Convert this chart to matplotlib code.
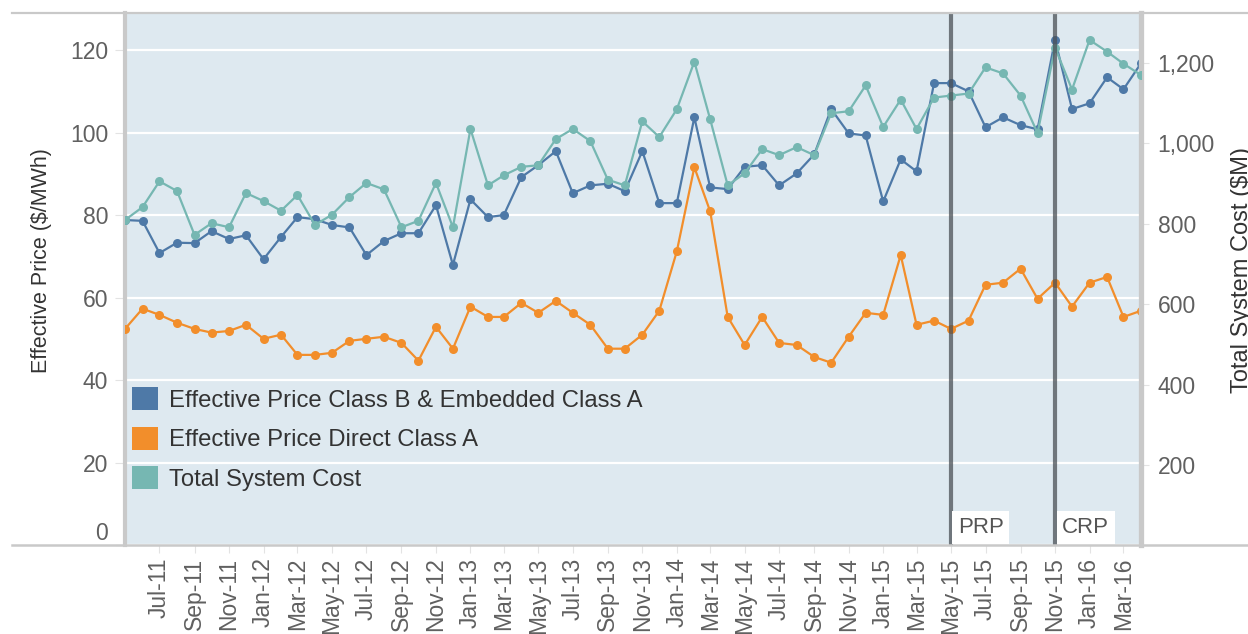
import matplotlib
matplotlib.use("Agg")
import matplotlib.pyplot as plt
import matplotlib.dates as mdates
from matplotlib.patches import Patch
from matplotlib.lines import Line2D
from matplotlib.ticker import FuncFormatter
import pandas as pd

plt.rcParams['font.family'] = ['Liberation Sans', 'DejaVu Sans']

# monthly data, May-11 .. Apr-16
months = pd.date_range('2011-05-01', periods=60, freq='MS')

price_b = [78.8, 78.6, 70.8, 73.3, 73.2, 76.1, 74.2, 75.1, 69.3, 74.7,
           79.5, 79.0, 77.6, 77.0, 70.3, 73.7, 75.6, 75.6, 82.4, 67.9,
           83.8, 79.5, 80.0, 89.2, 92.1, 95.5, 85.3, 87.2, 87.6, 85.8,
           95.5, 82.9, 82.9, 103.7, 86.7, 86.3, 91.7, 92.1, 87.2, 90.1,
           94.7, 105.7, 99.8, 99.3, 83.3, 93.5, 90.6, 112.0, 112.0, 110.0,
           101.3, 103.7, 101.8, 100.8, 122.5, 105.7, 107.1, 113.4, 110.5, 116.8]

price_a = [52.4, 57.3, 55.8, 53.9, 52.4, 51.5, 51.9, 53.4, 50.0, 51.0,
           46.1, 46.1, 46.6, 49.5, 50.0, 50.5, 49.0, 44.7, 52.9, 47.6,
           57.8, 55.3, 55.3, 58.7, 56.3, 59.2, 56.3, 53.4, 47.6, 47.6,
           51.0, 56.8, 71.2, 91.6, 80.9, 55.3, 48.5, 55.3, 49.0, 48.5,
           45.6, 44.2, 50.5, 56.3, 55.8, 70.3, 53.4, 54.4, 52.4, 54.4,
           63.1, 63.6, 67.0, 59.7, 63.6, 57.8, 63.6, 65.0, 55.3, 56.8]

total_cost = [809, 841, 905, 881, 772, 801, 791, 876, 856, 832,
              871, 797, 822, 866, 901, 885, 791, 807, 901, 791,
              1035, 895, 920, 941, 945, 1010, 1035, 1005, 909, 895,
              1054, 1015, 1084, 1202, 1059, 895, 925, 985, 970, 990,
              970, 1074, 1079, 1143, 1040, 1108, 1035, 1113, 1118, 1123,
              1188, 1173, 1118, 1025, 1237, 1133, 1256, 1227, 1197, 1169]

events = ['PRP', 'CRP']
event_dates = [pd.Timestamp('2015-05-01'), pd.Timestamp('2015-11-01')]

labels = ['Effective Price Class B & Embedded Class A',
          'Effective Price Direct Class A',
          'Total System Cost']
c_blue = '#4e79a7'
c_orange = '#f28e2b'
c_teal = '#76b7b2'
grey_txt = '#606060'
border = '#c9c9c9'

W, H = 1248, 634
fig = plt.figure(figsize=(W / 100, H / 100), dpi=100)
ax = fig.add_axes([125 / W, 89 / H, 1016 / W, 532 / H])
ax.set_facecolor('#dee9f0')
ax2 = ax.twinx()

# lines
ax.plot(months, price_a, color=c_orange, lw=1.6, marker='o', ms=6.5, mew=0, zorder=3)
ax.plot(months, price_b, color=c_blue, lw=1.6, marker='o', ms=6.5, mew=0, zorder=4)
ax2.plot(months, total_cost, color=c_teal, lw=1.6, marker='o', ms=6.5, mew=0, zorder=3)

# event lines
for name, d in zip(events, event_dates):
    ax2.axvline(d, color='#4a5056', alpha=0.75, lw=3, zorder=5)
    ax2.annotate(name, xy=(mdates.date2num(d), 0), xycoords=('data', 'axes fraction'),
                 xytext=(7, 7), textcoords='offset pixels', ha='left', va='bottom',
                 fontsize=16, color='#555555', zorder=6,
                 bbox=dict(boxstyle='square,pad=0.25', fc='white', ec='none'))

# axes ranges
ax.set_xlim(months[0], months[-1])
ax.set_ylim(0, 129.0)
ax2.set_ylim(2, 1323)

ax.set_yticks(range(0, 121, 20))
ax2.set_yticks(range(200, 1201, 200))
ax2.yaxis.set_major_formatter(FuncFormatter(lambda v, p: '{:,.0f}'.format(v)))

ax.set_xticks(pd.date_range('2011-07-01', '2016-03-01', freq='2MS'))
ax.xaxis.set_major_formatter(mdates.DateFormatter('%b-%y'))

ax.grid(axis='y', color='white', lw=1.6)
ax.set_axisbelow(True)

ax.tick_params(axis='y', length=7, color='#e3e3e3', labelsize=16.5, labelcolor=grey_txt, pad=5)
ax2.tick_params(axis='y', length=6, color='#e3e3e3', labelsize=16.5, labelcolor=grey_txt, pad=6)
ax.tick_params(axis='x', length=6, color='#e3e3e3', labelsize=16.5, labelcolor=grey_txt,
               pad=3, labelrotation=90)
for t in ax.get_yticklabels():
    if t.get_text() == '0':
        t.set_va('bottom')

# spines
for a in (ax, ax2):
    for s in ('top', 'bottom'):
        a.spines[s].set_visible(False)
ax.spines['right'].set_visible(False)
ax2.spines['left'].set_visible(False)
ax.spines['left'].set_color(border)
ax.spines['left'].set_linewidth(3)
ax2.spines['right'].set_color(border)
ax2.spines['right'].set_linewidth(3.8)

# full-width border lines top and bottom
fig.add_artist(Line2D([12 / W, 1], [1 - 13 / H] * 2, color=border, lw=1.6))
fig.add_artist(Line2D([12 / W, 1], [89 / H] * 2, color=border, lw=1.8))

# axis titles
fig.text(42 / W, 1 - 261 / H, 'Effective Price ($/MWh)', rotation=90, ha='center',
         va='center', fontsize=15.5, color='#333333')
fig.text(1242 / W, 1 - 270 / H, 'Total System Cost ($M)', rotation=90, ha='center',
         va='center', fontsize=17, color='#333333')

# legend
handles = [Patch(facecolor=c) for c in (c_blue, c_orange, c_teal)]
ax.legend(handles, labels, loc='upper left', bbox_to_anchor=(7 / 1016, 0.297),
          frameon=False, fontsize=17.2, handlelength=1.1, handleheight=1.1,
          handletextpad=0.45, labelspacing=0.63, borderpad=0, borderaxespad=0,
          labelcolor='#333333')

fig.savefig('out.png', dpi=100)
